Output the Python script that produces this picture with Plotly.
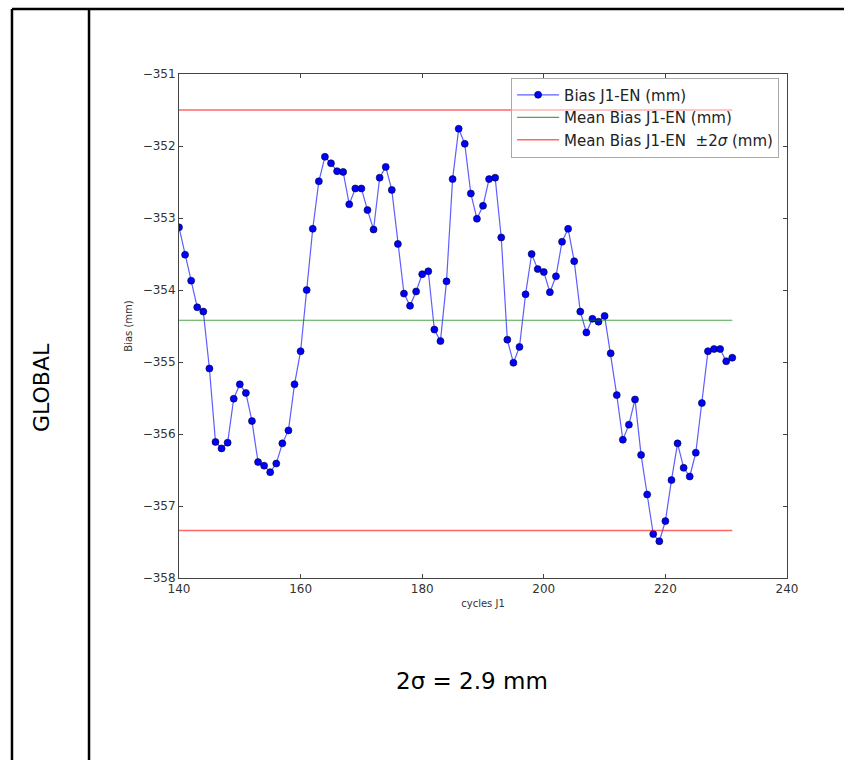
import plotly.graph_objects as go

cycles = list(range(140, 232))
bias = [
    -353.13, -353.51, -353.87, -354.24, -354.30, -355.09, -356.11, -356.20, -356.12, -355.51,
    -355.31, -355.43, -355.82, -356.39, -356.44, -356.53, -356.41, -356.13, -355.95, -355.31,
    -354.85, -354.00, -353.15, -352.49, -352.15, -352.24, -352.35, -352.36, -352.81, -352.59,
    -352.59, -352.89, -353.16, -352.44, -352.29, -352.61, -353.36, -354.05, -354.22, -354.02,
    -353.78, -353.74, -354.55, -354.71, -353.88, -352.46, -351.76, -351.97, -352.66, -353.01,
    -352.83, -352.46, -352.44, -353.27, -354.69, -355.01, -354.79, -354.06, -353.50, -353.71,
    -353.75, -354.03, -353.81, -353.33, -353.15, -353.60, -354.30, -354.59, -354.40, -354.44,
    -354.36, -354.88, -355.46, -356.08, -355.87, -355.52, -356.29, -356.84, -357.39, -357.49,
    -357.21, -356.64, -356.13, -356.47, -356.59, -356.26, -355.57, -354.85, -354.82, -354.82,
    -354.99, -354.94,
]
mean_bias = -354.42
upper_2sigma = -351.50
lower_2sigma = -357.34
x_ticks = [140, 160, 180, 200, 220, 240]
y_ticks = [-358, -357, -356, -355, -354, -353, -352, -351]
row_label = "GLOBAL"
caption = "2σ = 2.9 mm"

x_line = [cycles[0], cycles[-1]]

fig = go.Figure()
fig.add_trace(go.Scatter(
    x=cycles, y=bias, mode="lines+markers", name="Bias J1-EN (mm)",
    line=dict(color="rgba(40,40,255,0.75)", width=1.2),
    marker=dict(color="#0000ff", size=7, line=dict(color="#000033", width=0.6)),
))
fig.add_trace(go.Scatter(
    x=x_line, y=[mean_bias, mean_bias], mode="lines", name="Mean Bias J1-EN (mm)",
    line=dict(color="rgba(0,128,0,0.7)", width=1.2),
))
fig.add_trace(go.Scatter(
    x=x_line, y=[upper_2sigma, upper_2sigma], mode="lines",
    name="Mean Bias J1-EN  ±2<i>σ</i> (mm)",
    line=dict(color="rgba(255,0,0,0.6)", width=1.5),
))
fig.add_trace(go.Scatter(
    x=x_line, y=[lower_2sigma, lower_2sigma], mode="lines", showlegend=False,
    line=dict(color="rgba(255,0,0,0.6)", width=1.5),
))

axis_common = dict(
    showgrid=False, zeroline=False, showline=True, linecolor="#444444", linewidth=1,
    mirror="ticks", ticks="inside", ticklen=4, tickcolor="#444444",
    tickfont=dict(family="DejaVu Sans", size=12, color="#333333"),
)

fig.update_xaxes(range=[140, 240], tickvals=x_ticks,
                 title=dict(text="cycles J1", standoff=4,
                            font=dict(family="DejaVu Sans", size=10, color="#333333")),
                 **axis_common)
fig.update_yaxes(range=[-358, -351], tickvals=y_ticks,
                 title=dict(text="Bias (mm)", standoff=8,
                            font=dict(family="DejaVu Sans", size=10, color="#333333")),
                 **axis_common)

# page frame lines (paper coordinates)
frame = dict(color="black", width=2.5)
fig.add_shape(type="line", xref="paper", yref="paper", x0=-0.2747, x1=1.1, y0=1.129, y1=1.129, line=frame)
fig.add_shape(type="line", xref="paper", yref="paper", x0=-0.2747, x1=-0.2747, y0=1.129, y1=-0.37, line=frame)
fig.add_shape(type="line", xref="paper", yref="paper", x0=-0.1480, x1=-0.1480, y0=1.129, y1=-0.37, line=frame)

fig.add_annotation(text=row_label, xref="paper", yref="paper", x=-0.2253, y=0.377,
                   xanchor="center", yanchor="middle",
                   textangle=-90, showarrow=False,
                   font=dict(family="DejaVu Sans", size=22, color="black"))
fig.add_annotation(text=caption, xref="paper", yref="paper", x=0.482, y=-0.204,
                   xanchor="center", yanchor="middle",
                   showarrow=False, font=dict(family="DejaVu Sans", size=23, color="black"))

fig.update_layout(
    width=844, height=760,
    margin=dict(l=179, r=57, t=74, b=182),
    paper_bgcolor="white", plot_bgcolor="white",
    legend=dict(x=0.987, y=0.993, xanchor="right", yanchor="top",
                bgcolor="rgba(255,255,255,0.5)", bordercolor="#aaaaaa", borderwidth=1,
                font=dict(family="DejaVu Sans", size=15, color="#222222"),
                itemwidth=42, tracegroupgap=2),
)

fig.write_html("out.html", config={"displayModeBar": False},
               post_script="document.body.style.margin='0';document.body.style.padding='0';")
